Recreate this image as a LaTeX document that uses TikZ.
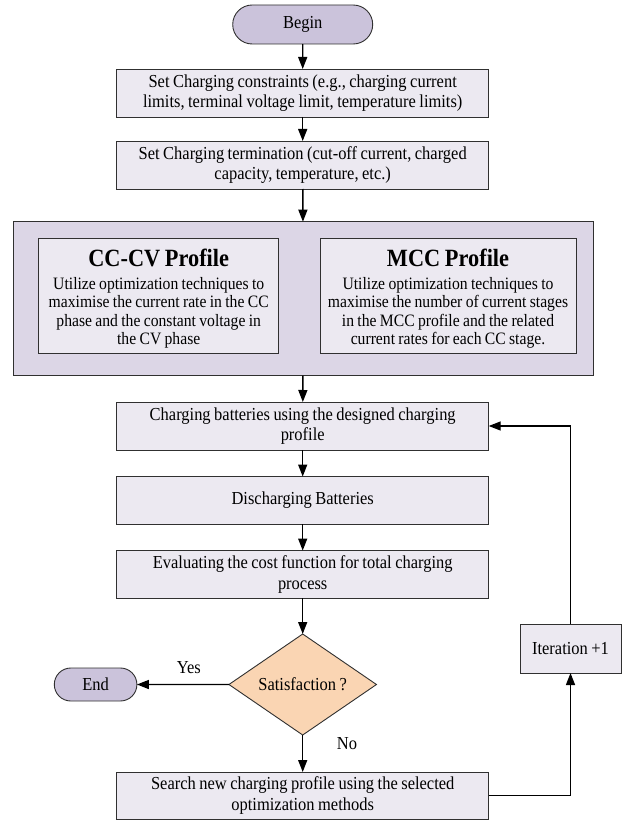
\documentclass[tikz,border=0pt]{standalone}
\usepackage{fontspec}
\setmainfont{Liberation Serif}[FakeStretch=0.9,WordSpace=0.85]
\usetikzlibrary{shapes.misc,shapes.geometric,arrows.meta}
\definecolor{termfill}{HTML}{CBC3DB}
\definecolor{boxfill}{HTML}{ECE9F1}
\definecolor{outerfill}{HTML}{DCD6E6}
\definecolor{decfill}{HTML}{FAD5B3}
\definecolor{edge}{HTML}{303030}
\tikzset{
  term/.style={rounded rectangle, draw=edge, line width=0.9pt, fill=termfill, inner sep=0pt, outer sep=0pt, font=\fontsize{18.3}{20.7}\selectfont},
  proc/.style={rectangle, draw=edge, line width=0.9pt, fill=boxfill, minimum width=372pt, minimum height=48pt, inner sep=0pt, outer sep=0pt, align=center, font=\fontsize{18.3}{20.7}\selectfont},
  inner/.style={rectangle, draw=edge, line width=0.9pt, fill=boxfill, minimum height=115pt, inner sep=0pt, outer sep=0pt},
  innertext/.style={align=center, inner sep=0pt, font=\fontsize{17.4}{18.3}\selectfont},
  flow/.style={line width=1.4pt, -{Triangle[length=12pt,width=9pt]}},
  lbl/.style={font=\fontsize{18.3}{20.7}\selectfont, inner sep=0pt}
}
\begin{document}
\begin{tikzpicture}[x=1pt,y=-1pt]
\useasboundingbox (0,0) rectangle (622,821);
\node[term, minimum width=140pt, minimum height=39pt] (begin) at (302.7,24.5) {Begin};
\node[proc] (cons) at (302.7,93) {Set Charging constraints (e.g., charging current\\limits, terminal voltage limit, temperature limits)};
\node[proc] (term) at (302.7,165) {Set Charging termination (cut-off current, charged\\capacity, temperature, etc.)};
\node[rectangle, draw=edge, line width=0.9pt, fill=outerfill, minimum width=579.5pt, minimum height=154pt, inner sep=0pt, outer sep=0pt] (outer) at (303.25,298.7) {};
\node[inner, minimum width=239.6pt] (cccv) at (158.7,295.5) {};
\node[inner, minimum width=256pt] (mcc) at (448,295.5) {};
\node[innertext] (cccvtext) at (158.7,298.5) {{\fontsize{24.8}{24}\selectfont\bfseries CC-CV Profile}\\[5pt]Utilize optimization techniques to\\maximise the current rate in the CC\\phase and the constant voltage in\\the CV phase};
\node[innertext] (mcctext) at (448,298.5) {{\fontsize{24.8}{24}\selectfont\bfseries MCC Profile}\\[5pt]Utilize optimization techniques to\\maximise the number of current stages\\in the MCC profile and the related\\current rates for each CC stage.};
\node[proc] (charge) at (302.7,426) {Charging batteries using the designed charging\\profile};
\node[proc, minimum height=47.5pt] (dis) at (302.7,500.3) {Discharging Batteries};
\node[proc, minimum height=47.5pt] (eval) at (302.7,574.3) {Evaluating the cost function for total charging\\process};
\node[diamond, draw=edge, line width=0.9pt, fill=decfill, aspect=1.46, minimum width=147.5pt, minimum height=101pt, inner sep=0pt, outer sep=0pt, font=\fontsize{18.3}{20.7}\selectfont] (sat) at (302.7,684.5) {Satisfaction ?};
\node[term, minimum width=82.6pt, minimum height=33pt] (end) at (95.6,684.5) {End};
\node[proc, minimum width=101pt, minimum height=49pt] (iter) at (570.5,648.5) {Iteration +1};
\node[proc, minimum height=47pt] (search) at (302.7,795.5) {Search new charging profile using the selected\\optimization methods};
\node[lbl] (yes) at (188.8,668) {Yes};
\node[lbl] (no) at (347,744) {No};
\draw[flow] (begin) -- (cons);
\draw[flow] (cons) -- (term);
\draw[flow] (term) -- (outer);
\draw[flow] (outer) -- (charge);
\draw[flow] (charge) -- (dis);
\draw[flow] (dis) -- (eval);
\draw[flow] (eval) -- (sat);
\draw[flow] (sat) -- (end);
\draw[flow] (sat) -- (search);
\draw[flow] (search.east) -| (iter.south);
\draw[flow] (iter.north) |- (charge.east);
\end{tikzpicture}
\end{document}
